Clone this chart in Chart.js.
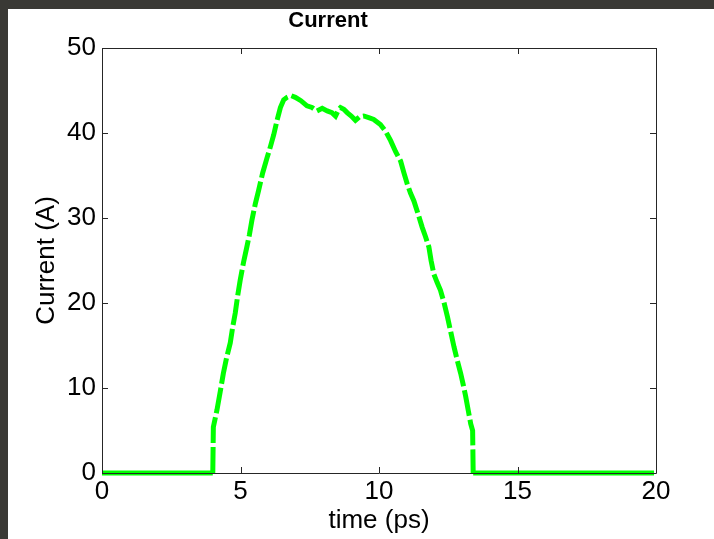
<!DOCTYPE html>
<html>
<head>
<meta charset="utf-8">
<title>Current</title>
<script src="https://cdn.jsdelivr.net/npm/chart.js@4.4.1/dist/chart.umd.min.js"></script>
<style>
    html, body { margin: 0; padding: 0; background: #3a3935; }
    #current { display: block; }
</style>
</head>
<body>
<canvas id="current" width="714" height="539"></canvas>
<script>
    // time (ps) and current (A)
    var times = [0, 4.0, 4.02, 4.15, 4.27, 4.38, 4.50, 4.63, 4.72, 4.81, 4.90, 4.99, 5.11, 5.23, 5.32, 5.41,
        5.53, 5.65, 5.80, 5.96, 6.08, 6.20, 6.32, 6.44, 6.56, 6.68, 6.82, 6.98, 7.18, 7.40, 7.58, 7.76,
        7.95, 8.13, 8.30, 8.43, 8.55, 8.61, 8.73, 8.85, 9.00, 9.15, 9.30, 9.45, 9.63, 9.81, 10.05, 10.24,
        10.42, 10.60, 10.78, 10.90, 11.02, 11.14, 11.26, 11.41, 11.56, 11.68, 11.80, 11.88, 11.98, 12.10,
        12.22, 12.35, 12.47, 12.59, 12.71, 12.83, 12.95, 13.04, 13.13, 13.22, 13.31, 13.38, 13.40, 19.93];
    var current = [0, 0, 5.4, 7.4, 9.6, 11.7, 13.6, 15.3, 17.2, 18.8, 20.9, 22.7, 24.8, 26.6, 28.0, 29.7,
        31.6, 33.2, 35.3, 37.1, 38.4, 39.8, 41.5, 43.0, 43.9, 44.2, 44.4, 44.2, 43.8, 43.2, 43.0, 42.6,
        42.9, 42.6, 42.4, 42.0, 42.8, 43.0, 42.8, 42.4, 42.0, 41.5, 41.9, 42.0, 41.8, 41.6, 41.0, 40.2,
        39.1, 37.8, 36.7, 35.3, 34.0, 32.9, 32.0, 30.5, 28.9, 27.8, 26.6, 25.0, 23.4, 22.4,
        21.5, 20.0, 18.4, 16.6, 14.8, 13.2, 11.7, 10.4, 9.0, 7.4, 5.8, 5.0, 0, 0];
    var xTicks = [0, 5, 10, 15, 20];
    var yTicks = [0, 10, 20, 30, 40, 50];

    var points = times.map(function (t, i) {
        return { x: t, y: current[i] };
    });

    var FONT = 'Liberation Sans, Arial, Helvetica, sans-serif';

    // figure background: white sheet on a dark surround
    var backdrop = {
        id: 'backdrop',
        beforeDraw: function (chart) {
            var ctx = chart.ctx;
            ctx.save();
            ctx.fillStyle = '#3a3935';
            ctx.fillRect(0, 0, chart.width, chart.height);
            ctx.fillStyle = '#ffffff';
            ctx.fillRect(8, 9, chart.width - 8, chart.height - 9);
            ctx.restore();
        }
    };

    // matlab style box with inward ticks on every side
    var axesBox = {
        id: 'axesBox',
        afterDatasetsDraw: function (chart) {
            var ctx = chart.ctx;
            var a = chart.chartArea;
            var xs = chart.scales.x;
            var ys = chart.scales.y;
            var len = 6;
            ctx.save();
            ctx.strokeStyle = '#262626';
            ctx.lineWidth = 1;
            ctx.beginPath();
            ctx.rect(a.left + 0.5, a.top + 0.5, a.right - a.left, a.bottom - a.top);
            xTicks.forEach(function (v) {
                var px = Math.round(xs.getPixelForValue(v)) + 0.5;
                ctx.moveTo(px, a.bottom);
                ctx.lineTo(px, a.bottom - len);
                ctx.moveTo(px, a.top);
                ctx.lineTo(px, a.top + len);
            });
            yTicks.forEach(function (v) {
                var py = Math.round(ys.getPixelForValue(v)) + 0.5;
                ctx.moveTo(a.left, py);
                ctx.lineTo(a.left + len, py);
                ctx.moveTo(a.right, py);
                ctx.lineTo(a.right - len, py);
            });
            ctx.stroke();
            ctx.restore();
        }
    };

    var currentChart = new Chart(document.getElementById('current'), {
        type: 'line',
        data: {
            datasets: [{
                label: 'Current',
                data: points,
                borderColor: '#00ff00',
                borderWidth: 5,
                pointRadius: 0,
                tension: 0,
                fill: false,
                clip: false,
                borderCapStyle: 'butt',
                segment: {
                    borderDash: function (ctx) {
                        return (ctx.p0.parsed.y === 0 && ctx.p1.parsed.y === 0) ? [] : [26, 4];
                    }
                }
            }]
        },
        options: {
            responsive: false,
            animation: false,
            devicePixelRatio: 1,
            layout: { padding: { left: 0, right: 58, top: 0, bottom: 0 } },
            plugins: {
                legend: { display: false },
                tooltip: { enabled: false },
                title: {
                    display: true,
                    text: 'Current',
                    color: '#000000',
                    font: { family: FONT, size: 22, weight: 'bold', lineHeight: 1.2 },
                    padding: { top: 8, bottom: 13.6 }
                }
            },
            scales: {
                x: {
                    type: 'linear',
                    min: 0,
                    max: 20,
                    afterFit: function (scale) { scale.height = 66; },
                    afterBuildTicks: function (scale) {
                        scale.ticks = xTicks.map(function (v) { return { value: v }; });
                    },
                    grid: { display: false, drawTicks: false },
                    border: { display: false },
                    ticks: {
                        color: '#000000',
                        padding: 3,
                        maxRotation: 0,
                        font: { family: FONT, size: 26 }
                    },
                    title: {
                        display: true,
                        text: 'time (ps)',
                        color: '#000000',
                        font: { family: FONT, size: 26, lineHeight: 1 },
                        padding: { top: 0, bottom: 5 }
                    }
                },
                y: {
                    type: 'linear',
                    min: 0,
                    max: 50,
                    afterFit: function (scale) { scale.width = 102; },
                    afterBuildTicks: function (scale) {
                        scale.ticks = yTicks.map(function (v) { return { value: v }; });
                    },
                    grid: { display: false, drawTicks: false },
                    border: { display: false },
                    ticks: {
                        color: '#000000',
                        padding: 6,
                        font: { family: FONT, size: 26 }
                    },
                    title: {
                        display: true,
                        text: 'Current (A)',
                        color: '#000000',
                        font: { family: FONT, size: 26, lineHeight: 1 },
                        padding: { top: 34, bottom: 0 }
                    }
                }
            }
        },
        plugins: [backdrop, axesBox]
    });
</script>
</body>
</html>
